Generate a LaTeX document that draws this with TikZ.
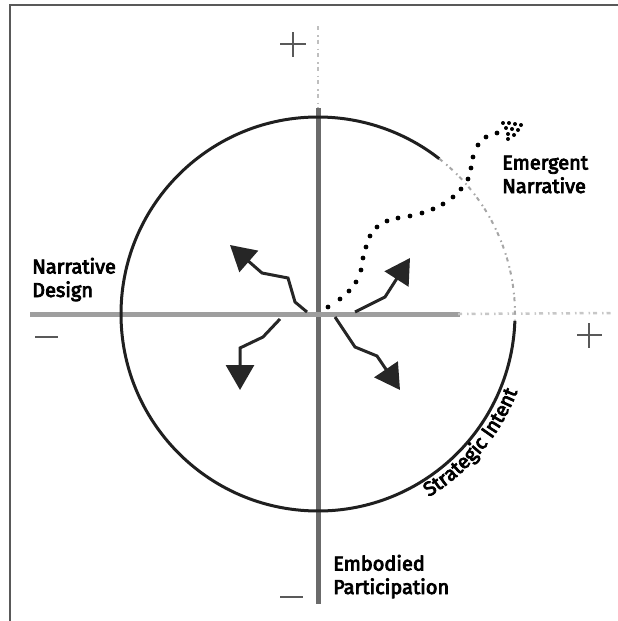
\documentclass[tikz,border=0pt]{standalone}
\usepackage{fontspec}
\setmainfont{Fira Sans}[FakeBold=4]
\usetikzlibrary{arrows.meta,decorations.text}
\newcommand\lblfont{\fontsize{20}{23.5}\selectfont}
\begin{document}
\begin{tikzpicture}[x=1pt,y=-1pt,
  frameline/.style={draw=black!65, line width=2pt},
  vaxis/.style={draw=black!58, line width=5pt},
  haxis/.style={draw=black!38, line width=5pt},
  faint/.style={draw=black!25, line width=2.5pt, dash pattern=on 4pt off 5pt on 1.5pt off 3pt},
  ring/.style={draw=black!88, line width=3pt},
  sign/.style={draw=black!65, line width=2pt},
  mover/.style={draw=black!85, line width=3pt, line join=miter,
    -{Triangle[length=25pt,width=28pt]}},
  lbl/.style={font=\lblfont, text=black, inner sep=0pt, align=left, anchor=base west},
  dot/.style={fill=black}
]
\useasboundingbox (0,0) rectangle (618,621);
% partial frame
\draw[frameline] (10,621) -- (10,5) -- (618,5);
% axes
\coordinate (O) at (318,314);
\draw[faint] (318,26) -- (318,110);
\draw[vaxis] (318,108) -- (318,604);
\draw[haxis] (30,314) -- (460,314);
\draw[faint, draw=black!22] (458,314) -- (612,313);
% circle
\draw[ring] (O) ++(2:197) arc[start angle=2, end angle=308, radius=197];
\draw[faint, draw=black!35, line width=2pt] (O) ++(308:197) arc[start angle=308, end angle=362, radius=197];
% plus / minus signs
\draw[sign] (280,44) -- (306,44) (293,32) -- (293,57);
\draw[sign] (577,335) -- (602,335) (589,323) -- (589,348);
\draw[sign] (35,337) -- (58,337);
\draw[sign] (280,597) -- (303,597);
% arrows
\draw[mover] (307,312) -- (295,302) -- (288,278) -- (262,273) -- (230,245);
\draw[mover] (355,312) -- (385,297) -- (410,258);
\draw[mover] (280,319) -- (263,337) -- (240,348) -- (240,390);
\draw[mover] (335,317) -- (355,347) -- (377,356) -- (400,390);
% dotted emergent path
\foreach \p in {(328,307),(340,299),(349,291),(356,282),(361,270),(363,258),(366,247),(370,236),(377,227),(387,221),(398,218),(410,216),(422,213),(433,209),(443,204),(453,197),(461,189),(468,179),(471,168),(473,157),(478,145),(486,137),(497,133)}
  \fill[dot] \p circle[radius=2.4];
\foreach \p in {(503,123),(509,123),(515,124),(521,125),(506,128),(512,129),(518,130),(508,134),(514,135),(508,139)}
  \fill[dot] \p circle[radius=2.0];
% labels
\node[lbl] (nd) at (32,297) {Narrative\\Design};
\node[lbl] (en) at (502,193) {Emergent\\Narrative};
\node[lbl] (ep) at (333,594) {Embodied\\Participation};
{\lblfont
\path[decorate, decoration={text along path, text align=center,
  text={Strategic Intent}}]
  (O) ++(61:214) arc[start angle=61, end angle=19, radius=214];
}
\end{tikzpicture}
\end{document}
